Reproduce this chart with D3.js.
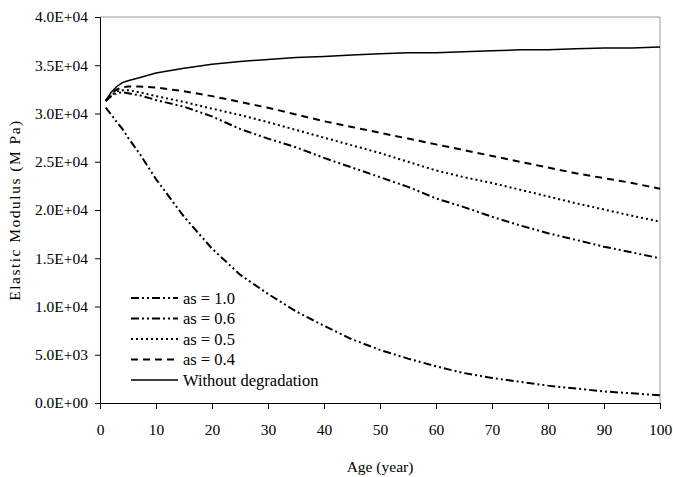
<!DOCTYPE html>
<meta charset="utf-8">
<html>
<style>
  body { margin: 0; background: #fff; }
  text { font-family: "Liberation Serif", "Times New Roman", serif; fill: #000; }
</style>
<div id="chart"></div>
<script src="https://cdn.jsdelivr.net/npm/d3@7"></script>
<script>
// values (MPa)
var ages   = [1, 2, 3, 4, 5, 7, 10, 15, 20, 25, 30, 35, 40, 45, 50, 55, 60, 65, 70, 75, 80, 85, 90, 95, 100];
var as10   = [30600, 29900, 29100, 28400, 27500, 25900, 23200, 19300, 16000, 13300, 11300, 9500, 8000, 6600, 5500, 4600, 3800, 3100, 2600, 2200, 1800, 1500, 1200, 1000, 800];
var as06   = [31300, 31800, 32100, 32200, 32100, 31900, 31400, 30700, 29700, 28400, 27400, 26500, 25400, 24400, 23400, 22400, 21200, 20300, 19300, 18400, 17600, 16900, 16200, 15600, 15000];
var as05   = [31300, 31900, 32300, 32400, 32400, 32200, 31800, 31200, 30500, 29850, 29100, 28300, 27500, 26700, 25900, 25000, 24100, 23400, 22800, 22100, 21400, 20700, 20050, 19400, 18800];
var as04   = [31300, 32000, 32500, 32700, 32800, 32800, 32700, 32300, 31800, 31200, 30600, 29900, 29200, 28600, 28000, 27400, 26800, 26200, 25600, 25000, 24400, 23800, 23300, 22800, 22200];
var noDeg  = [31300, 32200, 32800, 33200, 33400, 33700, 34200, 34700, 35100, 35400, 35600, 35800, 35900, 36050, 36200, 36300, 36300, 36400, 36500, 36600, 36600, 36700, 36800, 36800, 36900];
var seriesNames = ["as = 1.0", "as = 0.6", "as = 0.5", "as = 0.4", "Without degradation"];
var xTicks = [0, 10, 20, 30, 40, 50, 60, 70, 80, 90, 100];
var yTicks = [0, 5000, 10000, 15000, 20000, 25000, 30000, 35000, 40000];

var seriesVals = [as10, as06, as05, as04, noDeg];
var dashes = ["8,3,2,3,2,3", "8,3,2,3,2,3", "2,3", "7,5", null];

var W = 673, H = 477;
var pLeft = 100, pRight = 660, pTop = 17, pBottom = 403;

var svg = d3.select("#chart").append("svg").attr("width", W).attr("height", H);

var x = d3.scaleLinear().domain([0, 100]).range([pLeft, pRight]);
var y = d3.scaleLinear().domain([0, 40000]).range([pBottom, pTop]);

function fmt(v) {
  var e = v === 0 ? 0 : Math.floor(Math.log10(v));
  var m = v / Math.pow(10, e);
  var ee = (e < 10 ? "0" : "") + e;
  return m.toFixed(1) + "E+" + ee;
}

// frame top / right
svg.append("line").attr("x1", pLeft).attr("x2", pRight).attr("y1", pTop).attr("y2", pTop)
  .attr("stroke", "#999").attr("stroke-width", 1);
svg.append("line").attr("x1", pRight).attr("x2", pRight).attr("y1", pTop).attr("y2", pBottom)
  .attr("stroke", "#999").attr("stroke-width", 1);

var gx = svg.append("g").attr("transform", "translate(0," + pBottom + ")")
  .call(d3.axisBottom(x).tickValues(xTicks).tickSize(6).tickPadding(15).tickFormat(d3.format("d")));
var gy = svg.append("g").attr("transform", "translate(" + pLeft + ",0)")
  .call(d3.axisLeft(y).tickValues(yTicks).tickSize(5).tickPadding(7).tickFormat(fmt));
[gx, gy].forEach(function (g) {
  g.select(".domain").attr("stroke", "#000");
  g.selectAll(".tick line").attr("stroke", "#000");
  g.selectAll(".tick text").style("font-size", "15.5px").style("font-family", "Liberation Serif, serif").attr("fill", "#000");
});

svg.append("text").attr("x", (pLeft + pRight) / 2).attr("y", 472)
  .attr("text-anchor", "middle").style("font-size", "15.5px").text("Age (year)");
svg.append("text").attr("transform", "translate(20," + (pTop + pBottom) / 2 + ") rotate(-90)")
  .attr("text-anchor", "middle").style("font-size", "15.5px").style("letter-spacing", "1.5px")
  .text("Elastic Modulus (M Pa)");

var line = d3.line().x(function (d) { return x(d[0]); }).y(function (d) { return y(d[1]); });

seriesVals.forEach(function (vals, i) {
  svg.append("path")
    .datum(ages.map(function (a, j) { return [a, vals[j]]; }))
    .attr("d", line)
    .attr("fill", "none")
    .attr("stroke", "#000")
    .attr("stroke-width", i === 4 ? 1.5 : 2)
    .attr("stroke-dasharray", dashes[i]);
});

// legend
var lg = svg.append("g");
seriesNames.forEach(function (name, i) {
  var yy = 298 + i * 20.5;
  lg.append("line").attr("x1", 131).attr("x2", 178).attr("y1", yy).attr("y2", yy)
    .attr("stroke", "#000").attr("stroke-width", i === 4 ? 1.5 : 2)
    .attr("stroke-dasharray", dashes[i]);
  lg.append("text").attr("x", 183).attr("y", yy + 5.5).style("font-size", "16.5px").text(name);
});
</script>
</html>
